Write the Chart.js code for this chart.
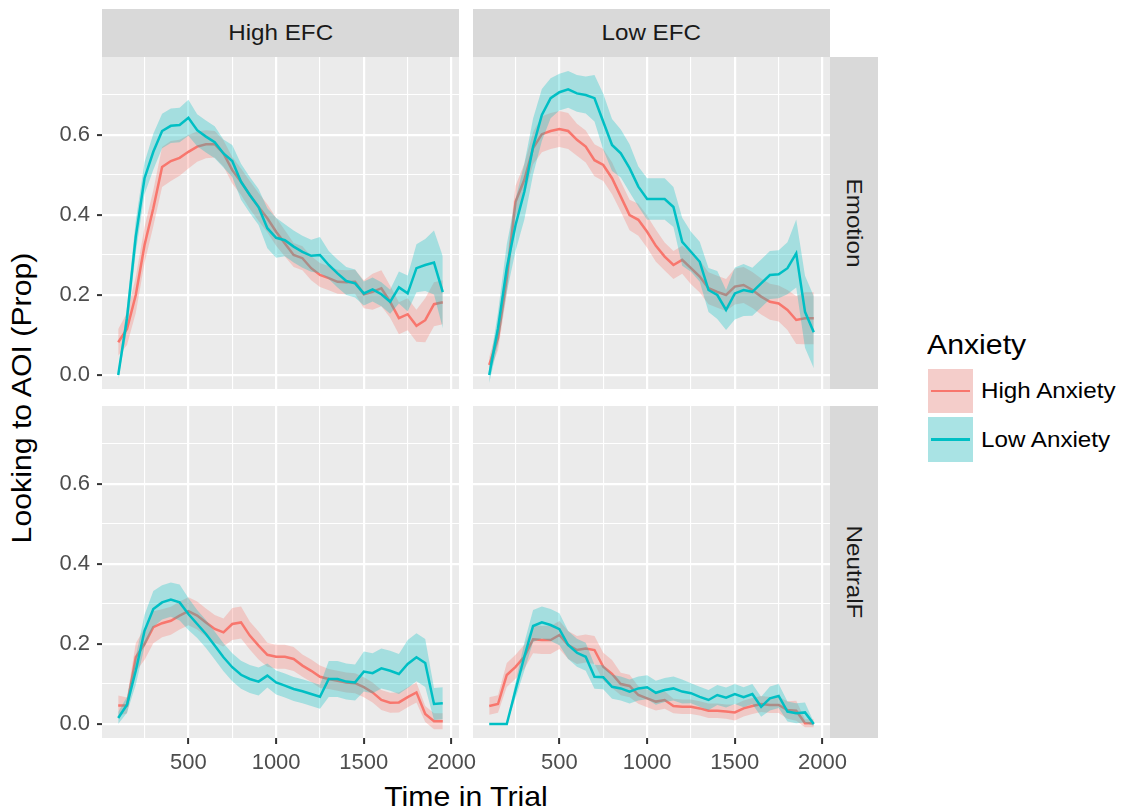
<!DOCTYPE html>
<html>
<head>
<meta charset="utf-8">
<script src="https://cdn.jsdelivr.net/npm/chart.js@4.4.1/dist/chart.umd.min.js"></script>
<style>
  body { margin: 0; background: #fff; font-family: "Liberation Sans", Arial, sans-serif; }
  #wrap { position: relative; width: 1123px; height: 809px; overflow: hidden; }
  canvas { position: absolute; }
  .strip { position: absolute; background: #D9D9D9; color: #1A1A1A; font-size: 22px;
           display: flex; align-items: center; justify-content: center; }
  .strip span { display: inline-block; white-space: nowrap; transform: scaleX(1.1); }
  .strip.side span { transform: rotate(90deg) scaleX(1.1); }
  .txt { position: absolute; white-space: nowrap; }
  .key { position: absolute; width: 45px; }
  .key i { position: absolute; left: 3px; right: 3px; top: 50%; height: 2.5px; margin-top: -1.25px; }
</style>
</head>
<body>
<div id="wrap">
  <div class="strip" style="left:102px;top:9px;width:357px;height:48px"><span>High EFC</span></div>
  <div class="strip" style="left:473px;top:9px;width:357px;height:48px"><span>Low EFC</span></div>
  <div class="strip side" style="left:830px;top:57px;width:48px;height:332px"><span>Emotion</span></div>
  <div class="strip side" style="left:830px;top:406px;width:48px;height:332px"><span>NeutralF</span></div>

  <div class="txt" style="left:-178px;top:381.5px;width:400px;height:32px;line-height:32px;text-align:center;font-size:28px;transform:rotate(-90deg) scaleX(1.08)">Looking to AOI (Prop)</div>
  <div class="txt" style="left:266px;top:783px;width:400px;line-height:28px;text-align:center;font-size:28px;transform:scaleX(1.08)">Time in Trial</div>

  <div class="txt" style="left:927px;top:331px;line-height:28px;font-size:28px;transform-origin:left;transform:scaleX(1.08)">Anxiety</div>
  <div class="key" style="left:928px;top:369px;height:44px;background:rgb(244,205,202)"><i style="background:#F8766D"></i></div>
  <div class="key" style="left:928px;top:417px;height:45px;background:rgb(169,227,228)"><i style="background:#00BFC4"></i></div>
  <div class="txt" style="left:981px;top:380px;line-height:22px;font-size:22px;transform-origin:left;transform:scaleX(1.1)">High Anxiety</div>
  <div class="txt" style="left:981px;top:428.5px;line-height:22px;font-size:22px;transform-origin:left;transform:scaleX(1.1)">Low Anxiety</div>
</div>

<script>
// time points (ms)
const times = [100, 150, 200, 250, 300, 350, 400, 450, 500, 550, 600, 650, 700, 750, 800, 850, 900, 950, 1000,
  1050, 1100, 1150, 1200, 1250, 1300, 1350, 1400, 1450, 1500, 1550, 1600, 1650, 1700, 1750, 1800, 1850, 1900, 1950];

const xTicks = [250, 500, 750, 1000, 1250, 1500, 1750, 2000];
const yTicks = [0, 0.1, 0.2, 0.3, 0.4, 0.5, 0.6, 0.7];

// High EFC / Emotion
const hiEfcEmoHigh = [0.082, 0.115, 0.20, 0.325, 0.417, 0.52, 0.535, 0.543, 0.558, 0.571, 0.577, 0.577, 0.554, 0.512,
  0.483, 0.45, 0.42, 0.392, 0.358, 0.329, 0.30, 0.292, 0.267, 0.25, 0.242, 0.233, 0.232, 0.233, 0.202, 0.208, 0.217,
  0.183, 0.142, 0.152, 0.123, 0.137, 0.177, 0.182];
const hiEfcEmoHighSe = [0.033, 0.04, 0.045, 0.045, 0.045, 0.05, 0.05, 0.045, 0.042, 0.038, 0.035, 0.033, 0.033, 0.033,
  0.033, 0.035, 0.035, 0.035, 0.035, 0.033, 0.03, 0.03, 0.03, 0.03, 0.03, 0.03, 0.03, 0.03, 0.035, 0.045, 0.045,
  0.04, 0.04, 0.04, 0.04, 0.055, 0.055, 0.055];
const hiEfcEmoLow = [0.0, 0.142, 0.346, 0.492, 0.558, 0.61, 0.623, 0.625, 0.643, 0.612, 0.596, 0.582, 0.554, 0.535,
  0.483, 0.45, 0.42, 0.367, 0.343, 0.337, 0.321, 0.308, 0.298, 0.30, 0.275, 0.254, 0.235, 0.229, 0.204, 0.214, 0.202,
  0.183, 0.219, 0.204, 0.267, 0.275, 0.281, 0.207];
const hiEfcEmoLowSe = [0.01, 0.03, 0.04, 0.04, 0.045, 0.043, 0.043, 0.043, 0.045, 0.04, 0.04, 0.04, 0.035, 0.04,
  0.045, 0.045, 0.045, 0.05, 0.05, 0.04, 0.04, 0.04, 0.04, 0.045, 0.035, 0.035, 0.035, 0.035, 0.03, 0.03, 0.03,
  0.03, 0.04, 0.045, 0.06, 0.065, 0.08, 0.09];

// Low EFC / Emotion
const loEfcEmoHigh = [0.025, 0.092, 0.242, 0.433, 0.488, 0.567, 0.602, 0.61, 0.615, 0.61, 0.588, 0.571, 0.537, 0.525,
  0.492, 0.446, 0.40, 0.388, 0.358, 0.323, 0.296, 0.275, 0.288, 0.267, 0.246, 0.217, 0.208, 0.20, 0.221, 0.225,
  0.2125, 0.196, 0.183, 0.179, 0.1625, 0.1375, 0.142, 0.142];
const loEfcEmoHighSe = [0.02, 0.03, 0.04, 0.04, 0.04, 0.04, 0.045, 0.045, 0.045, 0.045, 0.04, 0.04, 0.04, 0.04,
  0.04, 0.038, 0.038, 0.04, 0.04, 0.04, 0.035, 0.035, 0.035, 0.04, 0.04, 0.04, 0.04, 0.04, 0.045, 0.045, 0.045,
  0.045, 0.045, 0.045, 0.05, 0.06, 0.065, 0.065];
const loEfcEmoLow = [0.0, 0.117, 0.267, 0.375, 0.458, 0.571, 0.65, 0.692, 0.707, 0.714, 0.704, 0.70, 0.692, 0.633,
  0.575, 0.554, 0.517, 0.471, 0.44, 0.44, 0.44, 0.42, 0.333, 0.308, 0.283, 0.2125, 0.20, 0.1625, 0.204, 0.2125,
  0.208, 0.229, 0.25, 0.252, 0.267, 0.304, 0.158, 0.107];
const loEfcEmoLowSe = [0.02, 0.04, 0.06, 0.065, 0.07, 0.07, 0.065, 0.05, 0.046, 0.046, 0.046, 0.046, 0.058, 0.07,
  0.065, 0.06, 0.06, 0.05, 0.052, 0.052, 0.052, 0.05, 0.06, 0.05, 0.05, 0.055, 0.06, 0.05, 0.065, 0.065, 0.06,
  0.06, 0.06, 0.06, 0.065, 0.085, 0.09, 0.09];

// High EFC / NeutralF
const hiEfcNeuHigh = [0.046, 0.046, 0.167, 0.20, 0.242, 0.252, 0.258, 0.271, 0.282, 0.271, 0.254, 0.2375, 0.229,
  0.25, 0.254, 0.221, 0.196, 0.173, 0.168, 0.168, 0.1625, 0.146, 0.133, 0.118, 0.1125, 0.108, 0.104, 0.102, 0.092,
  0.079, 0.06, 0.053, 0.054, 0.067, 0.079, 0.025, 0.007, 0.007];
const hiEfcNeuHighSe = [0.025, 0.02, 0.035, 0.04, 0.04, 0.035, 0.035, 0.035, 0.035, 0.035, 0.035, 0.035, 0.035,
  0.04, 0.04, 0.035, 0.035, 0.03, 0.03, 0.03, 0.03, 0.028, 0.028, 0.028, 0.025, 0.025, 0.025, 0.025, 0.025, 0.025,
  0.025, 0.025, 0.025, 0.025, 0.025, 0.02, 0.02, 0.02];
const hiEfcNeuLow = [0.015, 0.048, 0.133, 0.233, 0.2875, 0.304, 0.311, 0.304, 0.275, 0.25, 0.225, 0.196, 0.167,
  0.142, 0.123, 0.1125, 0.106, 0.121, 0.104, 0.096, 0.0875, 0.082, 0.075, 0.068, 0.1125, 0.1125, 0.106, 0.104,
  0.131, 0.127, 0.139, 0.133, 0.125, 0.15, 0.167, 0.1525, 0.05, 0.052];
const hiEfcNeuLowSe = [0.015, 0.02, 0.035, 0.04, 0.045, 0.043, 0.043, 0.045, 0.04, 0.035, 0.035, 0.035, 0.035,
  0.035, 0.035, 0.035, 0.035, 0.03, 0.03, 0.03, 0.03, 0.03, 0.03, 0.03, 0.045, 0.045, 0.045, 0.045, 0.05, 0.05,
  0.05, 0.05, 0.05, 0.06, 0.06, 0.06, 0.04, 0.04];

// Low EFC / NeutralF
const loEfcNeuHigh = [0.045, 0.05, 0.1225, 0.143, 0.168, 0.212, 0.21, 0.21, 0.2225, 0.1975, 0.185, 0.189, 0.185,
  0.143, 0.125, 0.10, 0.095, 0.0725, 0.064, 0.056, 0.06, 0.045, 0.043, 0.043, 0.039, 0.033, 0.033, 0.031, 0.029,
  0.039, 0.045, 0.05, 0.0475, 0.0475, 0.035, 0.033, 0.002, 0.002];
const loEfcNeuHighSe = [0.022, 0.022, 0.03, 0.03, 0.03, 0.035, 0.035, 0.035, 0.035, 0.035, 0.035, 0.035, 0.035,
  0.035, 0.035, 0.028, 0.028, 0.022, 0.022, 0.022, 0.022, 0.018, 0.018, 0.018, 0.018, 0.018, 0.018, 0.018, 0.02,
  0.02, 0.02, 0.02, 0.02, 0.02, 0.022, 0.025, 0.01, 0.01];
const loEfcNeuLow = [0.0, 0.0, 0.0, 0.085, 0.168, 0.245, 0.254, 0.2475, 0.237, 0.1975, 0.178, 0.168, 0.118, 0.117,
  0.093, 0.089, 0.081, 0.089, 0.092, 0.078, 0.085, 0.089, 0.081, 0.077, 0.068, 0.06, 0.0725, 0.066, 0.075, 0.067,
  0.075, 0.043, 0.064, 0.07, 0.031, 0.027, 0.029, 0.0];
const loEfcNeuLowSe = [0, 0, 0, 0.02, 0.035, 0.04, 0.04, 0.04, 0.04, 0.035, 0.035, 0.035, 0.03, 0.03, 0.03, 0.03,
  0.03, 0.03, 0.03, 0.03, 0.03, 0.03, 0.03, 0.025, 0.025, 0.025, 0.025, 0.025, 0.025, 0.025, 0.025, 0.025, 0.03,
  0.03, 0.025, 0.025, 0.025, 0.005];

const RED = '#F8766D', CYAN = '#00BFC4';
const RED_FILL = 'rgba(248,118,109,0.3)', CYAN_FILL = 'rgba(0,191,196,0.3)';
const FONT = '"Liberation Sans", Arial, sans-serif';

// layout of the facet grid
const PANEL_W = 357, PANEL_H = 332;
const colX = [102, 473], rowY = [57, 406];
const AX_W = 102, AX_H = 45, PAD_T = 5, PAD_R = 25;

function pts(mean, se, sign) {
  return times.map((t, i) => ({ x: t, y: mean[i] + sign * se[i] }));
}

const isMajorX = v => v % 500 === 0;
const isMajorY = v => Math.round(v * 10) % 2 === 0;

const panelBg = {
  id: 'panelBg',
  beforeDraw(chart) {
    const a = chart.chartArea, c = chart.ctx;
    c.save();
    c.fillStyle = '#EBEBEB';
    c.fillRect(a.left, a.top, a.right - a.left, a.bottom - a.top);
    c.restore();
  }
};

function makePanel(row, col, high, highSe, low, lowSe) {
  const cv = document.createElement('canvas');
  cv.width = AX_W + PANEL_W + PAD_R;
  cv.height = PAD_T + PANEL_H + AX_H;
  cv.style.left = (colX[col] - AX_W) + 'px';
  cv.style.top = (rowY[row] - PAD_T) + 'px';
  document.getElementById('wrap').appendChild(cv);

  const showX = row === 1, showY = col === 0;
  const band = { pointRadius: 0, borderWidth: 0, borderColor: 'rgba(0,0,0,0)', tension: 0 };

  return new Chart(cv, {
    type: 'line',
    data: {
      datasets: [
        { ...band, data: pts(high, highSe, 1), fill: 1, backgroundColor: RED_FILL, order: 4 },
        { ...band, data: pts(high, highSe, -1), fill: false, order: 4 },
        { data: pts(high, highSe, 0), borderColor: RED, borderWidth: 2.5, pointRadius: 0, fill: false, order: 3 },
        { ...band, data: pts(low, lowSe, 1), fill: 4, backgroundColor: CYAN_FILL, order: 2 },
        { ...band, data: pts(low, lowSe, -1), fill: false, order: 2 },
        { data: pts(low, lowSe, 0), borderColor: CYAN, borderWidth: 2.5, pointRadius: 0, fill: false, order: 1 }
      ]
    },
    options: {
      responsive: false,
      animation: false,
      devicePixelRatio: 1,
      layout: { padding: { top: PAD_T, right: PAD_R, left: 0, bottom: 0 } },
      plugins: {
        legend: { display: false },
        tooltip: { enabled: false },
        filler: { drawTime: 'beforeDatasetDraw', propagate: false }
      },
      scales: {
        x: {
          type: 'linear', min: 7.5, max: 2042.5,
          afterBuildTicks: s => { s.ticks = xTicks.map(v => ({ value: v })); },
          afterFit: s => { s.height = AX_H; s.paddingLeft = 0; s.paddingRight = 0; },
          ticks: {
            display: showX, autoSkip: false, maxRotation: 0, minRotation: 0, padding: 6,
            color: '#4D4D4D', font: { family: FONT, size: 22 },
            callback: v => isMajorX(v) ? String(v) : ''
          },
          grid: {
            color: '#FFFFFF',
            lineWidth: c => c.tick && isMajorX(c.tick.value) ? 2.2 : 1.1,
            drawTicks: showX, tickLength: 6, tickWidth: 2,
            tickColor: c => c.tick && isMajorX(c.tick.value) ? '#333333' : 'rgba(0,0,0,0)'
          },
          border: { display: false }
        },
        y: {
          type: 'linear', min: -0.035, max: 0.795,
          afterBuildTicks: s => { s.ticks = yTicks.map(v => ({ value: v })); },
          afterFit: s => { s.width = AX_W; s.paddingTop = 0; s.paddingBottom = 0; },
          ticks: {
            display: showY, autoSkip: false, padding: 7,
            color: '#4D4D4D', font: { family: FONT, size: 22 },
            callback: v => isMajorY(v) ? v.toFixed(1) : ''
          },
          grid: {
            color: '#FFFFFF',
            lineWidth: c => c.tick && isMajorY(c.tick.value) ? 2.2 : 1.1,
            drawTicks: showY, tickLength: 5, tickWidth: 2,
            tickColor: c => c.tick && isMajorY(c.tick.value) ? '#333333' : 'rgba(0,0,0,0)'
          },
          border: { display: false }
        }
      }
    },
    plugins: [panelBg]
  });
}

makePanel(0, 0, hiEfcEmoHigh, hiEfcEmoHighSe, hiEfcEmoLow, hiEfcEmoLowSe);
makePanel(0, 1, loEfcEmoHigh, loEfcEmoHighSe, loEfcEmoLow, loEfcEmoLowSe);
makePanel(1, 0, hiEfcNeuHigh, hiEfcNeuHighSe, hiEfcNeuLow, hiEfcNeuLowSe);
makePanel(1, 1, loEfcNeuHigh, loEfcNeuHighSe, loEfcNeuLow, loEfcNeuLowSe);
</script>
</body>
</html>
